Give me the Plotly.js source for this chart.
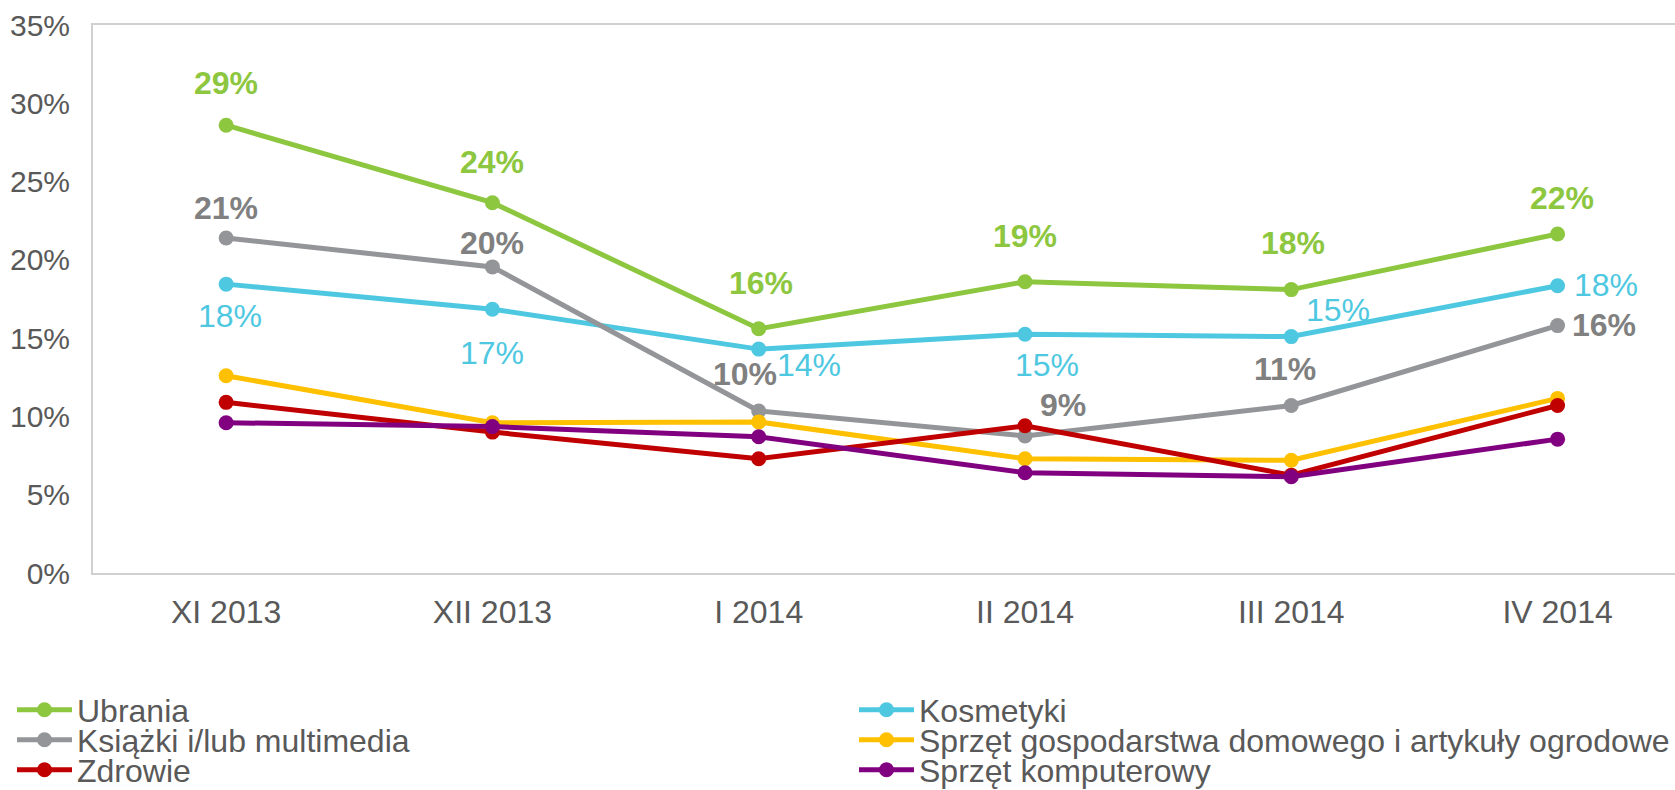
<!DOCTYPE html>
<html>
<head>
<meta charset="utf-8">
<script src="https://cdn.plot.ly/plotly-3.0.1.min.js"></script>
<style>html,body{margin:0;padding:0;background:#fff;}#chart{width:1675px;height:790px;}</style>
</head>
<body>
<div id="chart"></div>
<script>
// ---- data ----
const categories = ['XI 2013', 'XII 2013', 'I 2014', 'II 2014', 'III 2014', 'IV 2014'];
const seriesNames = ['Ubrania', 'Kosmetyki', 'Książki i/lub multimedia',
  'Sprzęt gospodarstwa domowego i artykuły ogrodowe', 'Zdrowie', 'Sprzęt komputerowy'];
const ubrania     = [28.6, 23.65, 15.6, 18.6, 18.1, 21.65];
const kosmetyki   = [18.45, 16.85, 14.3, 15.25, 15.1, 18.35];
const ksiazki     = [21.4, 19.55, 10.35, 8.75, 10.7, 15.8];
const agd         = [12.6, 9.6, 9.65, 7.3, 7.2, 11.15];
const zdrowie     = [10.9, 9.0, 7.3, 9.4, 6.25, 10.7];
const komputerowy = [9.6, 9.35, 8.7, 6.4, 6.15, 8.55];
const yTickVals = [0, 5, 10, 15, 20, 25, 30, 35];
const yTickText = ['0%', '5%', '10%', '15%', '20%', '25%', '30%', '35%'];

// ---- styling (not data) ----
const colors = ['#8DC63F', '#4EC8E1', '#939598', '#FFC000', '#C00000', '#800080'];
const allSeries = [ubrania, kosmetyki, ksiazki, agd, zdrowie, komputerowy];
const legendIds = ['legend', 'legend2', 'legend3', 'legend4', 'legend5', 'legend6'];
// legend placement in container fractions: [x, y(center)]
const legendPos = [
  [12/1675, 1 - 710/790], [854/1675, 1 - 710/790],
  [12/1675, 1 - 740/790], [854/1675, 1 - 740/790],
  [12/1675, 1 - 770/790], [854/1675, 1 - 770/790]
];
// label offsets (px) for the data labels, [xshift, yshift]
const labelStyle = [
  {s: 0, color: '#8DC63F', bold: true,
   off: [[0,42],[0,41],[2,46],[0,46],[2,47],[4,36]]},
  {s: 2, color: '#808080', bold: true,
   off: [[0,30],[0,24],[-14,37],[38,31],[-6,36],[46,1]]},
  {s: 1, color: '#4EC8E1', bold: false,
   off: [[4,-32],[0,-44],[50,-16],[22,-31],[47,27],[48,1]]}
];

const font = 'Liberation Sans, Arial, sans-serif';

const traces = allSeries.map((vals, i) => ({
  type: 'scatter', mode: 'lines+markers',
  name: seriesNames[i], x: categories, y: vals,
  line: {color: colors[i], width: 5},
  marker: {color: colors[i], size: 15},
  legend: legendIds[i],
  hoverinfo: 'skip'
}));

const annotations = [];
labelStyle.forEach(ls => {
  const vals = allSeries[ls.s];
  vals.forEach((v, j) => {
    annotations.push({
      x: categories[j], y: v, xref: 'x', yref: 'y',
      text: ls.bold ? '<b>' + Math.round(v) + '%</b>' : Math.round(v) + '%',
      showarrow: false, xanchor: 'center', yanchor: 'middle',
      xshift: ls.off[j][0], yshift: ls.off[j][1],
      font: {family: font, size: 32, color: ls.color}
    });
  });
});

const layout = {
  width: 1675, height: 790,
  margin: {l: 93, r: 0, t: 25, b: 217},
  paper_bgcolor: '#fff', plot_bgcolor: '#fff',
  font: {family: font, color: '#595959'},
  showlegend: true,
  xaxis: {
    type: 'category', range: [-0.5, 5.441],
    showgrid: false, zeroline: false,
    showline: true, mirror: true, linecolor: '#D0D0D0', linewidth: 2,
    ticks: '', ticklabelstandoff: 10, tickangle: 0,
    tickfont: {family: font, size: 32, color: '#595959'}
  },
  yaxis: {
    range: [0, 35], tickmode: 'array', tickvals: yTickVals, ticktext: yTickText,
    showgrid: false, zeroline: false,
    showline: true, mirror: true, linecolor: '#D0D0D0', linewidth: 2,
    ticks: '', ticklabelstandoff: 15,
    tickfont: {family: font, size: 30, color: '#595959'}
  },
  annotations: annotations
};

legendIds.forEach((id, i) => {
  layout[id] = {
    orientation: 'h', xref: 'container', yref: 'container',
    x: legendPos[i][0], y: legendPos[i][1], xanchor: 'left', yanchor: 'middle',
    itemwidth: 55,
    font: {family: font, size: 32, color: '#595959'},
    bgcolor: 'rgba(0,0,0,0)', borderwidth: 0
  };
});

Plotly.newPlot('chart', traces, layout, {displayModeBar: false, staticPlot: true});
</script>
</body>
</html>
